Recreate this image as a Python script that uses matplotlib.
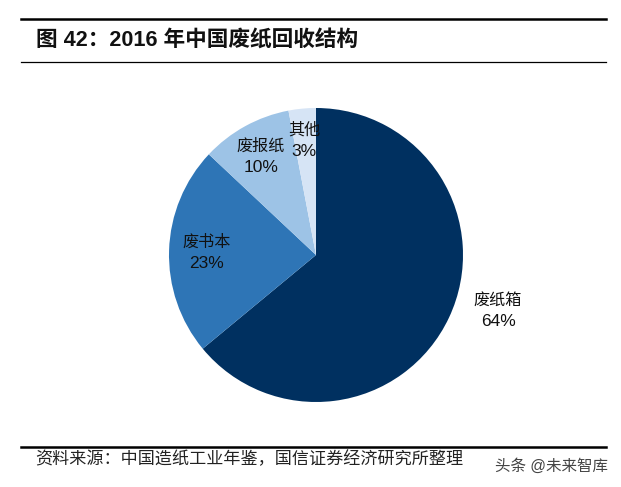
import matplotlib
matplotlib.use("Agg")
import matplotlib.pyplot as plt
from matplotlib.lines import Line2D

plt.rcParams['font.family'] = ['Liberation Sans', 'Noto Sans CJK SC', 'DejaVu Sans']

categories = ['废纸箱', '废书本', '废报纸', '其他']
shares = [64, 23, 10, 3]
colors = ['#003060', '#2E75B6', '#9DC3E6', '#D6E4F5']
title = '图 42\uff1a2016 年中国废纸回收结构'
source = '资料来源\uff1a中国造纸工业年鉴\uff0c国信证券经济研究所整理'
watermark = '头条 @未来智库'

W, H = 621, 487
fig = plt.figure(figsize=(W / 100, H / 100), dpi=100)

# pie axes is a square in pixel units, centred on the pie
cx, cy, r = 316, 255, 147
ax = fig.add_axes([(cx - r) / W, 1 - (cy + r) / H, 2 * r / W, 2 * r / H])
ax.pie(shares, colors=colors, startangle=90, counterclock=False, radius=1,
       wedgeprops={'linewidth': 0})
ax.set_xlim(-1, 1)
ax.set_ylim(-1, 1)
ax.set_aspect('equal')

# labels sit where the reference put them, in figure pixels
label_pos = [(498, 311), (207, 253), (261, 157), (304, 141)]
for name, val, (x, y) in zip(categories, shares, label_pos):
    col = '#111111'
    fig.text(x / W, 1 - (y - 11) / H, name, fontsize=11.6, color=col, ha='center', va='center')
    fig.text(x / W, 1 - (y + 10.5) / H, f'{val}%', fontsize=12.5, color=col, ha='center', va='center')

# header and footer rules
fig.add_artist(Line2D([21 / W, 606 / W], [1 - 19 / H] * 2, color='black', lw=1.8))
fig.add_artist(Line2D([21 / W, 606 / W], [1 - 62 / H] * 2, color='black', lw=0.9))
fig.add_artist(Line2D([21 / W, 606 / W], [1 - 447 / H] * 2, color='black', lw=1.8))

fig.text(36 / W, 1 - 40 / H, title, fontsize=15.6, fontweight='bold', color='#111111', ha='left', va='center')
fig.text(35 / W, 1 - 459 / H, source, fontsize=12.3, color='#222222', ha='left', va='center')
fig.text(495 / W, 1 - 466 / H, watermark, fontsize=11.2, color='#444444', ha='left', va='center')

fig.savefig('out.png', dpi=100)
